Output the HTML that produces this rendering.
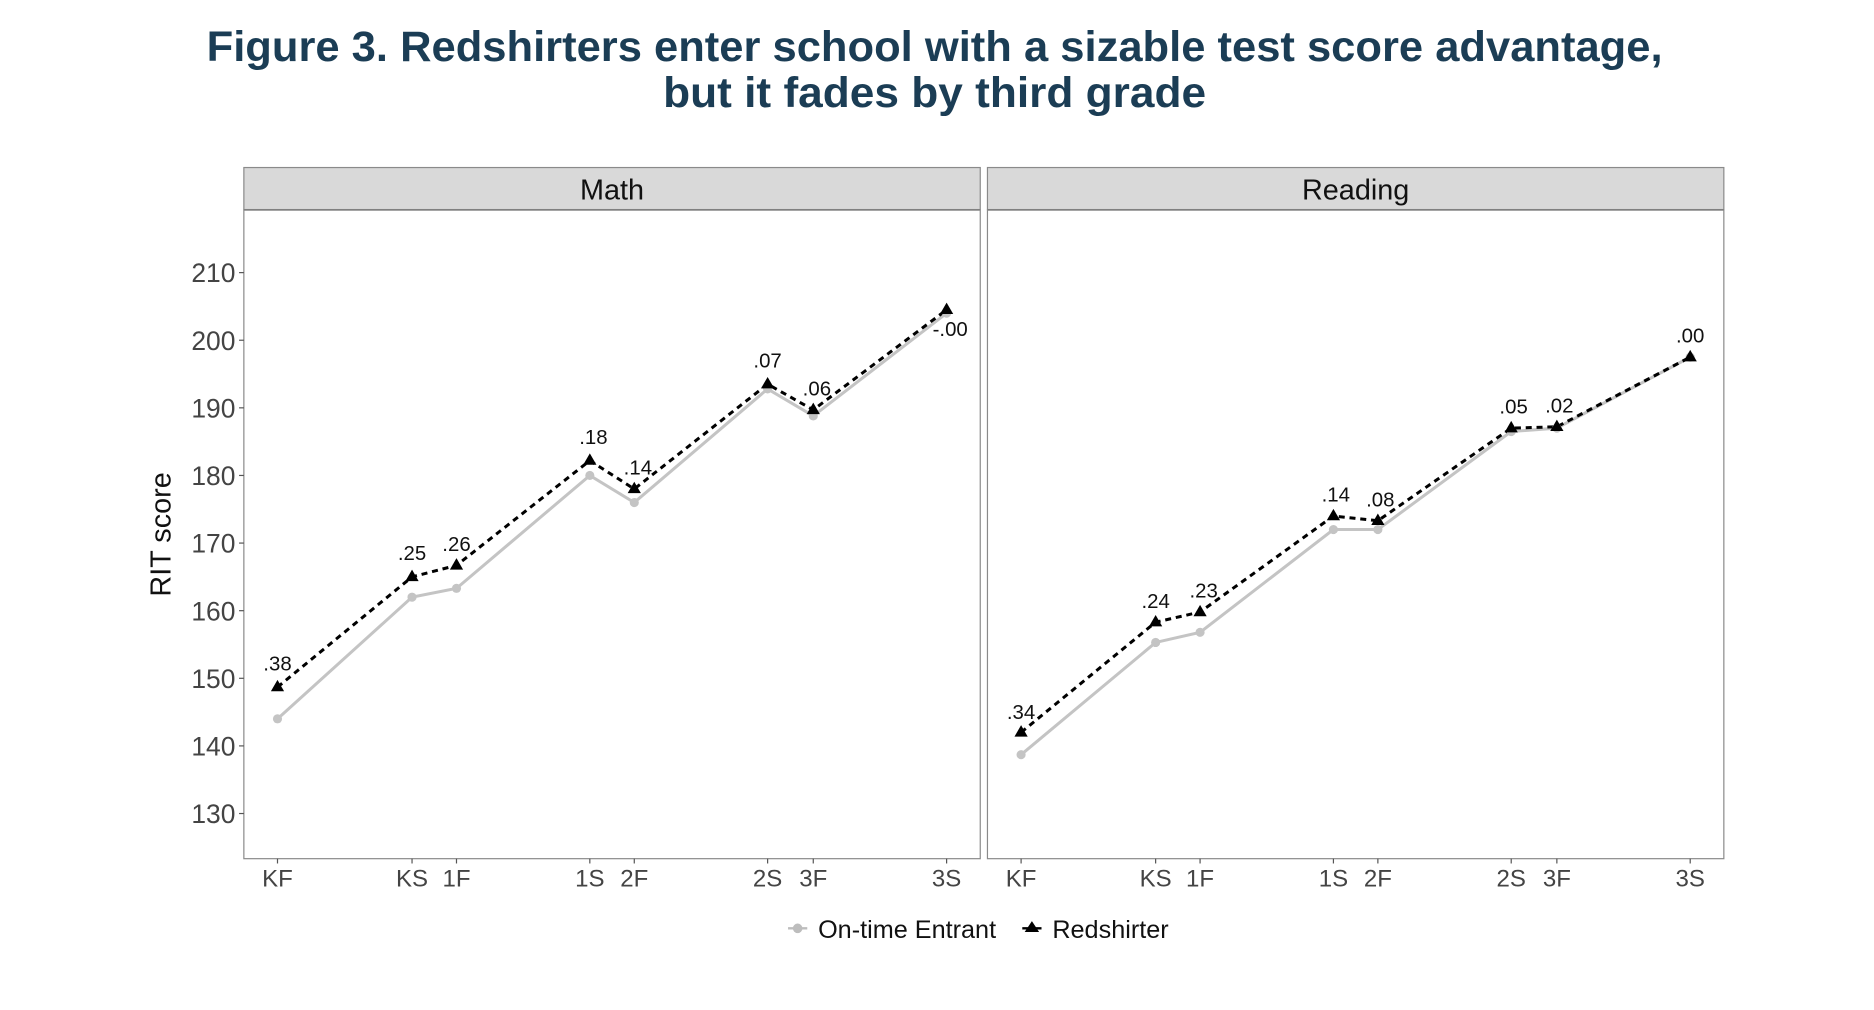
<!DOCTYPE html>
<html><head><meta charset="utf-8"><style>
html,body{margin:0;padding:0;background:#fff;width:1874px;height:1010px;overflow:hidden}
svg{display:block}
text{font-family:"Liberation Sans",sans-serif}
</style></head><body>
<svg id="s" width="1874" height="1010" viewBox="0 0 1560 841" preserveAspectRatio="none" xmlns="http://www.w3.org/2000/svg">
<text x="778" y="51" text-anchor="middle" font-size="35.5" font-weight="bold" fill="#1b3d55" textLength="1212" lengthAdjust="spacingAndGlyphs">Figure 3. Redshirters enter school with a sizable test score advantage,</text>
<text x="778" y="89" text-anchor="middle" font-size="35.5" font-weight="bold" fill="#1b3d55" textLength="452" lengthAdjust="spacingAndGlyphs">but it fades by third grade</text>
<g id="g"></g>
<text x="0" y="0" transform="translate(142,445) rotate(-90)" text-anchor="middle" font-size="24" fill="#111">RIT score</text>
<line x1="656" y1="773" x2="672" y2="773" stroke="#bdbdbd" stroke-width="2"/><circle cx="664" cy="773" r="4" fill="#bdbdbd"/>
<text x="681" y="781" font-size="21" fill="#111">On-time Entrant</text>
<line x1="851" y1="773" x2="867" y2="773" stroke="#000" stroke-width="2"/><path d="M859 767 L865 776 L853 776Z" fill="#000"/>
<text x="876" y="781" font-size="21" fill="#111">Redshirter</text>
</svg>
<script>
var g=document.getElementById('g'),h='';
function Y(v){return 227+(210-v)*5.63;}
var xs=[231,343,380,491,528,639,677,788];
var labs=['KF','KS','1F','1S','2F','2S','3F','3S'];
var panels=[
 {x0:203,x1:816,name:'Math',dx:0,
  on:[144,162,163.3,180,176,192.8,188.8,204],
  rd:[148.7,165,166.7,182.2,178,193.5,189.7,204.5],
  l:['.38','.25','.26','.18','.14','.07','.06','-.00'],
  lo:[[0,-14],[0,-14],[0,-12],[3,-14],[3,-12],[0,-14],[3,-12],[3,22]]},
 {x0:822,x1:1435,name:'Reading',dx:619,
  on:[138.7,155.3,156.8,172,172,186.5,187,197.5],
  rd:[142,158.3,159.8,174,173.3,187,187.2,197.5],
  l:['.34','.24','.23','.14','.08','.05','.02','.00'],
  lo:[[0,-11],[0,-12],[3,-12],[2,-12],[2,-12],[2,-12],[2,-12],[0,-12]]}];
panels.forEach(function(p,pi){
 h+='<rect x="'+p.x0+'" y="139.5" width="'+(p.x1-p.x0)+'" height="35" fill="#d9d9d9" stroke="#8a8a8a" stroke-width="1"/>';
 h+='<line x1="'+p.x0+'" y1="175" x2="'+p.x1+'" y2="175" stroke="#7a7a7a" stroke-width="2"/>';
 h+='<rect x="'+p.x0+'" y="175" width="'+(p.x1-p.x0)+'" height="540" fill="#fff" stroke="#8a8a8a" stroke-width="1"/>';
 h+='<text x="'+((p.x0+p.x1)/2)+'" y="166" text-anchor="middle" font-size="24" fill="#111">'+p.name+'</text>';
 var a='',b='';
 xs.forEach(function(x,i){x+=p.dx;a+=(i?'L':'M')+x+' '+Y(p.on[i]);b+=(i?'L':'M')+x+' '+Y(p.rd[i]);});
 h+='<path d="'+a+'" fill="none" stroke="#c4c4c4" stroke-width="2.5"/>';
 h+='<path d="'+b+'" fill="none" stroke="#000" stroke-width="2.5" stroke-dasharray="5,4"/>';
 xs.forEach(function(x,i){x+=p.dx;
  h+='<circle cx="'+x+'" cy="'+Y(p.on[i])+'" r="3.8" fill="#c4c4c4"/>';
  var y=Y(p.rd[i]);
  h+='<path d="M'+x+' '+(y-6)+' L'+(x+5.5)+' '+(y+3.5)+' L'+(x-5.5)+' '+(y+3.5)+'Z" fill="#000"/>';
  h+='<text x="'+(x+p.lo[i][0])+'" y="'+(y+p.lo[i][1])+'" text-anchor="middle" font-size="17" fill="#111">'+p.l[i]+'</text>';
  h+='<line x1="'+x+'" y1="715" x2="'+x+'" y2="719" stroke="#555"/>';
  h+='<text x="'+x+'" y="738" text-anchor="middle" font-size="20" fill="#444">'+labs[i]+'</text>';
 });
});
for(var v=130;v<=210;v+=10){var y=Y(v);
 h+='<line x1="199" y1="'+y+'" x2="203" y2="'+y+'" stroke="#555"/>';
 h+='<text x="196" y="'+(y+8)+'" text-anchor="end" font-size="22" fill="#444">'+v+'</text>';}
g.innerHTML=h;
</script>
</body></html>
